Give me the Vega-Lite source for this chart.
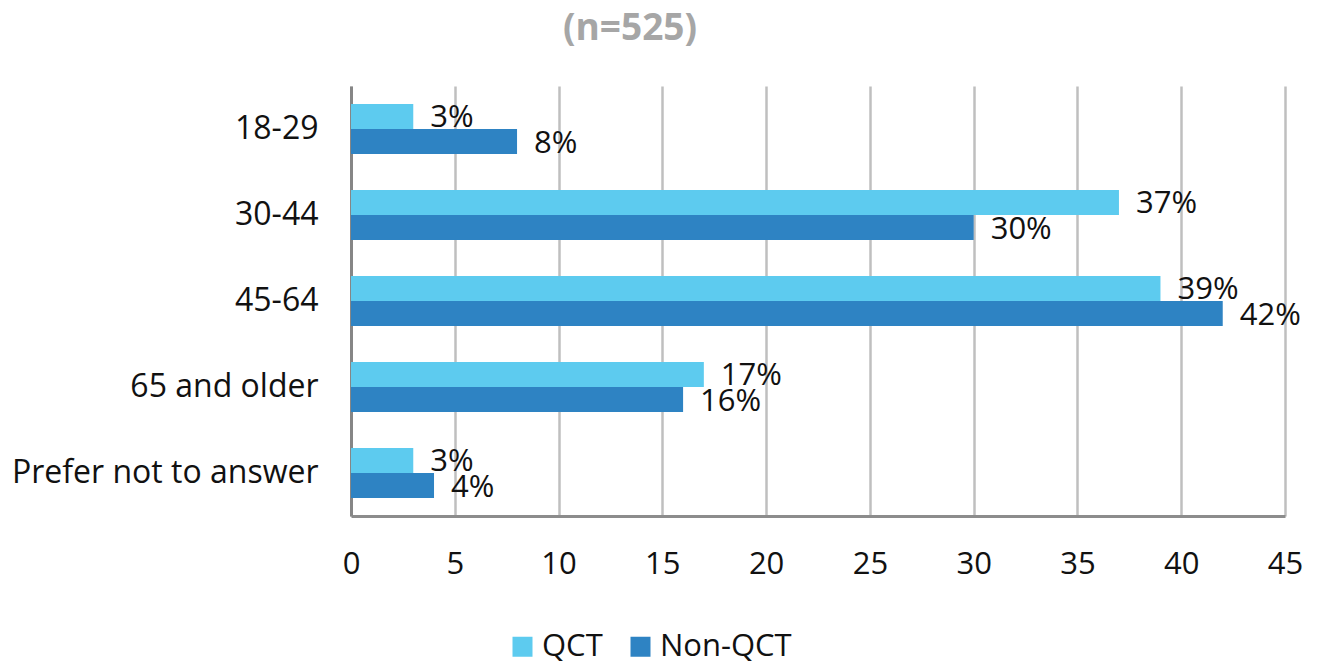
{
  "$schema": "https://vega.github.io/schema/vega-lite/v6.json",
  "autosize": {"type": "none"},
  "width": 934,
  "height": 430,
  "padding": {"left": 351, "top": 86, "right": 32, "bottom": 148},
  "background": "white",
  "config": {
    "font": "Open Sans",
    "view": {"stroke": null}
  },
  "title": {
    "text": "(n=525)",
    "font": "Open Sans",
    "fontSize": 37,
    "fontWeight": "bold",
    "color": "#A6A6A6",
    "anchor": "middle",
    "dx": -188,
    "offset": 38
  },
  "data": {
    "values": [
      {"age": "18-29", "group": "QCT", "pct": 3, "label": "3%"},
      {"age": "18-29", "group": "Non-QCT", "pct": 8, "label": "8%"},
      {"age": "30-44", "group": "QCT", "pct": 37, "label": "37%"},
      {"age": "30-44", "group": "Non-QCT", "pct": 30, "label": "30%"},
      {"age": "45-64", "group": "QCT", "pct": 39, "label": "39%"},
      {"age": "45-64", "group": "Non-QCT", "pct": 42, "label": "42%"},
      {"age": "65 and older", "group": "QCT", "pct": 17, "label": "17%"},
      {"age": "65 and older", "group": "Non-QCT", "pct": 16, "label": "16%"},
      {"age": "Prefer not to answer", "group": "QCT", "pct": 3, "label": "3%"},
      {"age": "Prefer not to answer", "group": "Non-QCT", "pct": 4, "label": "4%"}
    ]
  },
  "encoding": {
    "y": {
      "field": "age",
      "type": "nominal",
      "sort": ["18-29", "30-44", "45-64", "65 and older", "Prefer not to answer"],
      "scale": {"paddingInner": 0.4186, "paddingOuter": 0.2093},
      "axis": {
        "title": null,
        "ticks": false,
        "labelFontSize": 32,
        "labelLimit": 0,
        "labelColor": "#111111",
        "labelPadding": 33,
        "domainColor": "#868686",
        "domainWidth": 3,
        "grid": false
      }
    },
    "yOffset": {
      "field": "group",
      "type": "nominal",
      "sort": ["QCT", "Non-QCT"],
      "scale": {"paddingInner": 0, "paddingOuter": 0}
    },
    "x": {
      "field": "pct",
      "type": "quantitative",
      "scale": {"domain": [0, 45], "nice": false},
      "axis": {
        "title": null,
        "values": [0, 5, 10, 15, 20, 25, 30, 35, 40, 45],
        "ticks": false,
        "labelFontSize": 31,
        "labelColor": "#111111",
        "labelPadding": 33,
        "labelFlush": false,
        "domainColor": "#8C8C8C",
        "domainWidth": 3,
        "grid": true,
        "gridColor": "#BFBFBF",
        "gridWidth": 2.5
      }
    }
  },
  "layer": [
    {
      "mark": {"type": "bar"},
      "encoding": {
        "color": {
          "field": "group",
          "type": "nominal",
          "sort": ["QCT", "Non-QCT"],
          "scale": {"domain": ["QCT", "Non-QCT"], "range": ["#5DCBEF", "#2E83C3"]},
          "legend": {
            "title": null,
            "orient": "none",
            "direction": "horizontal",
            "legendX": 156,
            "legendY": 545,
            "symbolType": "square",
            "symbolSize": 400,
            "symbolStrokeWidth": 0,
            "labelFontSize": 31,
            "labelColor": "#111111",
            "labelOffset": 4,
            "columnPadding": 22
          }
        }
      }
    },
    {
      "mark": {"type": "text", "align": "left", "baseline": "middle", "dx": 17, "dy": 2, "fontSize": 31, "color": "#111111"},
      "encoding": {
        "text": {"field": "label", "type": "nominal"},
        "detail": {"field": "group"}
      }
    }
  ]
}
